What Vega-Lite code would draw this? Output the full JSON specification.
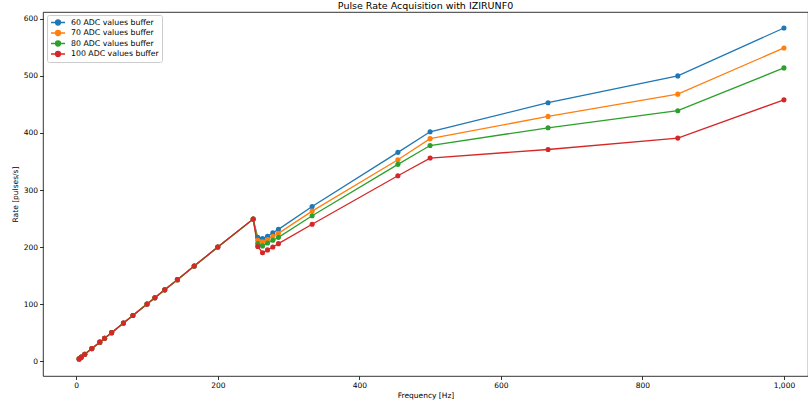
{
  "$schema": "https://vega.github.io/schema/vega-lite/v6.json",
  "width": 765,
  "height": 364,
  "autosize": {"type": "none"},
  "padding": {"left": 43, "top": 12, "right": 0, "bottom": 28},
  "title": {"text": "Pulse Rate Acquisition with IZIRUNF0", "fontSize": 9.5, "font": "DejaVu Sans", "fontWeight": "normal", "color": "#000", "offset": 3, "baseline": "alphabetic", "dy": 9, "anchor": "middle"},
  "config": {
    "view": {"stroke": "#000", "strokeWidth": 0.8},
    "font": "DejaVu Sans",
    "axis": {"grid": false, "domain": false, "tickColor": "#000", "tickSize": 3.5, "tickWidth": 0.8, "labelFontSize": 7.5, "labelColor": "#000", "titleFontSize": 7.5, "titleFontWeight": "normal", "titleColor": "#000", "labelPadding": 2}
  },
  "data": {"values": [
    {"s":"60 ADC values buffer","f":4,"r":4},{"s":"60 ADC values buffer","f":7,"r":7},{"s":"60 ADC values buffer","f":12,"r":12},{"s":"60 ADC values buffer","f":22,"r":22},{"s":"60 ADC values buffer","f":33.3,"r":33.3},{"s":"60 ADC values buffer","f":40,"r":40},{"s":"60 ADC values buffer","f":50,"r":50},{"s":"60 ADC values buffer","f":66.7,"r":66.7},{"s":"60 ADC values buffer","f":80,"r":80},{"s":"60 ADC values buffer","f":100,"r":100},{"s":"60 ADC values buffer","f":111.1,"r":111.1},{"s":"60 ADC values buffer","f":125,"r":125},{"s":"60 ADC values buffer","f":142.9,"r":142.9},{"s":"60 ADC values buffer","f":166.7,"r":166.7},{"s":"60 ADC values buffer","f":200,"r":200},{"s":"60 ADC values buffer","f":250,"r":249},
    {"s":"60 ADC values buffer","f":256.4,"r":217},{"s":"60 ADC values buffer","f":263.2,"r":215},{"s":"60 ADC values buffer","f":270.3,"r":219},{"s":"60 ADC values buffer","f":277.8,"r":225},{"s":"60 ADC values buffer","f":285.7,"r":231},{"s":"60 ADC values buffer","f":333.3,"r":271},{"s":"60 ADC values buffer","f":454.5,"r":366},{"s":"60 ADC values buffer","f":500,"r":402},{"s":"60 ADC values buffer","f":666.7,"r":453},{"s":"60 ADC values buffer","f":850,"r":500},{"s":"60 ADC values buffer","f":1000,"r":584},
    {"s":"70 ADC values buffer","f":4,"r":4},{"s":"70 ADC values buffer","f":7,"r":7},{"s":"70 ADC values buffer","f":12,"r":12},{"s":"70 ADC values buffer","f":22,"r":22},{"s":"70 ADC values buffer","f":33.3,"r":33.3},{"s":"70 ADC values buffer","f":40,"r":40},{"s":"70 ADC values buffer","f":50,"r":50},{"s":"70 ADC values buffer","f":66.7,"r":66.7},{"s":"70 ADC values buffer","f":80,"r":80},{"s":"70 ADC values buffer","f":100,"r":100},{"s":"70 ADC values buffer","f":111.1,"r":111.1},{"s":"70 ADC values buffer","f":125,"r":125},{"s":"70 ADC values buffer","f":142.9,"r":142.9},{"s":"70 ADC values buffer","f":166.7,"r":166.7},{"s":"70 ADC values buffer","f":200,"r":200},{"s":"70 ADC values buffer","f":250,"r":249},
    {"s":"70 ADC values buffer","f":256.4,"r":212},{"s":"70 ADC values buffer","f":263.2,"r":209},{"s":"70 ADC values buffer","f":270.3,"r":213},{"s":"70 ADC values buffer","f":277.8,"r":219},{"s":"70 ADC values buffer","f":285.7,"r":224},{"s":"70 ADC values buffer","f":333.3,"r":263},{"s":"70 ADC values buffer","f":454.5,"r":353},{"s":"70 ADC values buffer","f":500,"r":390},{"s":"70 ADC values buffer","f":666.7,"r":429},{"s":"70 ADC values buffer","f":850,"r":468},{"s":"70 ADC values buffer","f":1000,"r":549},
    {"s":"80 ADC values buffer","f":4,"r":4},{"s":"80 ADC values buffer","f":7,"r":7},{"s":"80 ADC values buffer","f":12,"r":12},{"s":"80 ADC values buffer","f":22,"r":22},{"s":"80 ADC values buffer","f":33.3,"r":33.3},{"s":"80 ADC values buffer","f":40,"r":40},{"s":"80 ADC values buffer","f":50,"r":50},{"s":"80 ADC values buffer","f":66.7,"r":66.7},{"s":"80 ADC values buffer","f":80,"r":80},{"s":"80 ADC values buffer","f":100,"r":100},{"s":"80 ADC values buffer","f":111.1,"r":111.1},{"s":"80 ADC values buffer","f":125,"r":125},{"s":"80 ADC values buffer","f":142.9,"r":142.9},{"s":"80 ADC values buffer","f":166.7,"r":166.7},{"s":"80 ADC values buffer","f":200,"r":200},{"s":"80 ADC values buffer","f":250,"r":249},
    {"s":"80 ADC values buffer","f":256.4,"r":206},{"s":"80 ADC values buffer","f":263.2,"r":202},{"s":"80 ADC values buffer","f":270.3,"r":207},{"s":"80 ADC values buffer","f":277.8,"r":212},{"s":"80 ADC values buffer","f":285.7,"r":217},{"s":"80 ADC values buffer","f":333.3,"r":255},{"s":"80 ADC values buffer","f":454.5,"r":345},{"s":"80 ADC values buffer","f":500,"r":378},{"s":"80 ADC values buffer","f":666.7,"r":409},{"s":"80 ADC values buffer","f":850,"r":439},{"s":"80 ADC values buffer","f":1000,"r":514},
    {"s":"100 ADC values buffer","f":4,"r":4},{"s":"100 ADC values buffer","f":7,"r":7},{"s":"100 ADC values buffer","f":12,"r":12},{"s":"100 ADC values buffer","f":22,"r":22},{"s":"100 ADC values buffer","f":33.3,"r":33.3},{"s":"100 ADC values buffer","f":40,"r":40},{"s":"100 ADC values buffer","f":50,"r":50},{"s":"100 ADC values buffer","f":66.7,"r":66.7},{"s":"100 ADC values buffer","f":80,"r":80},{"s":"100 ADC values buffer","f":100,"r":100},{"s":"100 ADC values buffer","f":111.1,"r":111.1},{"s":"100 ADC values buffer","f":125,"r":125},{"s":"100 ADC values buffer","f":142.9,"r":142.9},{"s":"100 ADC values buffer","f":166.7,"r":166.7},{"s":"100 ADC values buffer","f":200,"r":200},{"s":"100 ADC values buffer","f":250,"r":249},
    {"s":"100 ADC values buffer","f":256.4,"r":201},{"s":"100 ADC values buffer","f":263.2,"r":190},{"s":"100 ADC values buffer","f":270.3,"r":195},{"s":"100 ADC values buffer","f":277.8,"r":200},{"s":"100 ADC values buffer","f":285.7,"r":206},{"s":"100 ADC values buffer","f":333.3,"r":240},{"s":"100 ADC values buffer","f":454.5,"r":325},{"s":"100 ADC values buffer","f":500,"r":356},{"s":"100 ADC values buffer","f":666.7,"r":371},{"s":"100 ADC values buffer","f":850,"r":391},{"s":"100 ADC values buffer","f":1000,"r":458}
  ]},
  "encoding": {
    "x": {"field": "f", "type": "quantitative", "title": "Frequency [Hz]", "scale": {"domain": [-47, 1034], "nice": false, "zero": false}, "axis": {"values": [0, 200, 400, 600, 800, 1000], "titlePadding": 2}},
    "y": {"field": "r", "type": "quantitative", "title": "Rate [pulses/s]", "scale": {"domain": [-26, 612], "nice": false, "zero": false}, "axis": {"values": [0, 100, 200, 300, 400, 500, 600], "titlePadding": 4}},
    "color": {"field": "s", "type": "nominal", "scale": {"domain": ["60 ADC values buffer", "70 ADC values buffer", "80 ADC values buffer", "100 ADC values buffer"], "range": ["#1f77b4", "#ff7f0e", "#2ca02c", "#d62728"]},
      "legend": {"title": null, "orient": "none", "legendX": 4, "legendY": 3, "strokeColor": "#cccccc", "fillColor": "white", "cornerRadius": 2, "padding": 3, "labelFontSize": 7.8, "labelColor": "#000", "symbolOffset": 3, "labelOffset": 8, "rowPadding": 1.5, "clipHeight": 9, "symbolType": "M-1.75,0H1.75M-0.62,0A0.62,0.62,0,1,1,0.62,0A0.62,0.62,0,1,1,-0.62,0", "symbolSize": 64, "symbolStrokeWidth": 1.3, "symbolFillColor": null}},
    "order": {"value": 0}
  },
  "layer": [
    {"mark": {"type": "line", "strokeWidth": 1.3, "clip": true}},
    {"mark": {"type": "circle", "size": 26, "opacity": 1, "clip": true}}
  ]
}
